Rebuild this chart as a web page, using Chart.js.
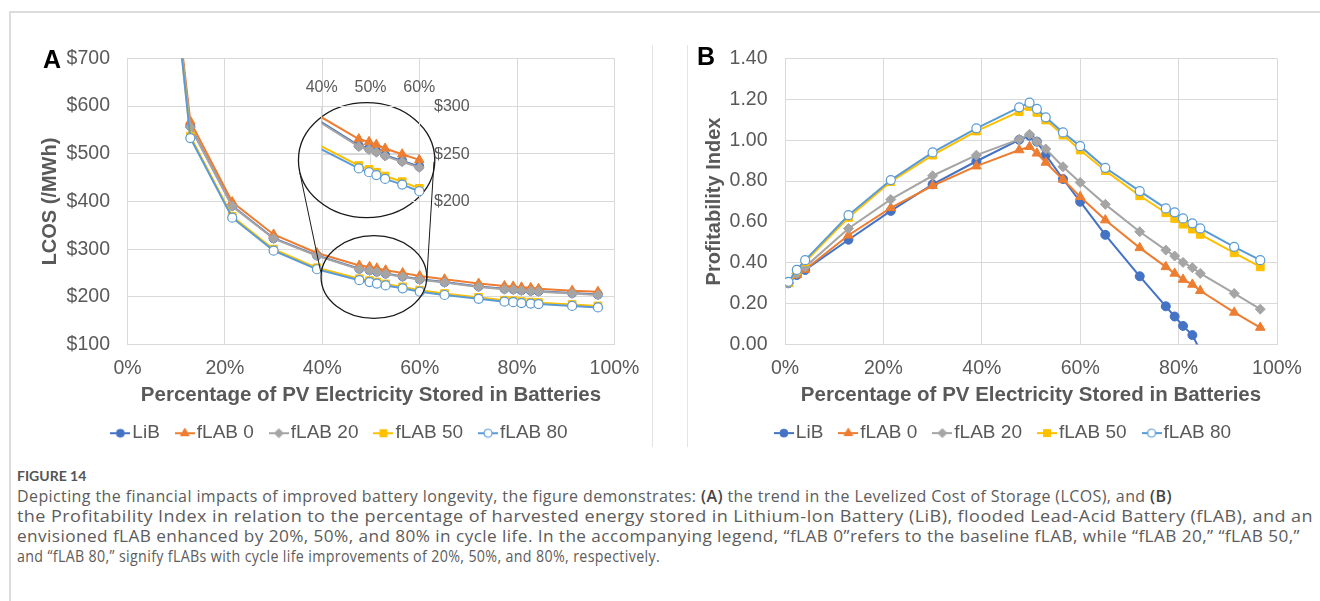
<!DOCTYPE html>
<html>
<head>
<meta charset="utf-8">
<title>Figure 14</title>
<script src="https://cdn.jsdelivr.net/npm/chart.js@4.4.1/dist/chart.umd.min.js"></script>
<style>
  html, body { margin: 0; padding: 0; background: #fff; }
  body { width: 1320px; height: 601px; position: relative; overflow: hidden; }
  .frame-top { position: absolute; left: 9px; top: 11px; width: 1311px; height: 2px; background: #dcdcdc; }
  .frame-left { position: absolute; left: 9px; top: 11px; width: 2px; height: 590px; background: #dcdcdc; }
  .sep { position: absolute; top: 45px; width: 1px; height: 402px; background: #e4e4e4; }
  .box { position: absolute; }
  .tag { position: absolute; font: bold 25px "Liberation Sans", Arial, sans-serif; color: #000; line-height: 25px; }
  .cap { position: absolute; left: 17px; font-family: "Open Sans", Lato, sans-serif; font-size: 16px;
         letter-spacing: 0.4px; line-height: 20px; color: #5c5c5c; white-space: nowrap; transform-origin: 0 50%; }
  .cap.head { font-family: Lato, sans-serif; font-weight: bold; font-size: 14px; letter-spacing: 0; color: #555; }
  .cap b { color: #444; font-weight: 600; }
</style>
</head>
<body>
<div class="frame-top"></div>
<div class="frame-left"></div>
<div class="sep" style="left:652px"></div>
<div class="sep" style="left:687px"></div>

<div class="box" style="left:0;top:0"><canvas id="chartA" width="660" height="460"></canvas></div>
<div class="box" style="left:660px;top:0"><canvas id="chartB" width="660" height="460"></canvas></div>
<div class="box" style="left:280px;top:60px"><canvas id="inset" width="200" height="160"></canvas></div>

<div class="tag" style="left:43px;top:47px">A</div>
<div class="tag" style="left:697px;top:44px">B</div>

<div class="cap head" style="top:466px">FIGURE 14</div>
<div class="cap" data-end="1172" style="top:486px">Depicting the financial impacts of improved battery longevity, the figure demonstrates: <b>(A)</b> the trend in the Levelized Cost of Storage (LCOS), and <b>(B)</b></div>
<div class="cap" data-end="1313" style="top:506px">the Profitability Index in relation to the percentage of harvested energy stored in Lithium-Ion Battery (LiB), flooded Lead-Acid Battery (fLAB), and an</div>
<div class="cap" data-end="1300" style="top:526px">envisioned fLAB enhanced by 20%, 50%, and 80% in cycle life. In the accompanying legend, “fLAB 0”refers to the baseline fLAB, while “fLAB 20,” “fLAB 50,”</div>
<div class="cap" data-end="660" style="top:546px">and “fLAB 80,” signify fLABs with cycle life improvements of 20%, 50%, and 80%, respectively.</div>

<script>
// share of PV electricity stored in batteries (%), same x positions in both panels
const pct = [0.7, 2.4, 4.1, 12.9, 21.5, 30, 38.9, 47.6, 49.7, 51.2, 53, 56.5, 60, 65.1, 72.1, 77.4, 79.2, 80.9, 82.8, 84.4, 91.3, 96.6];

const seriesNames = ['LiB', 'fLAB 0', 'fLAB 20', 'fLAB 50', 'fLAB 80'];

// panel A: LCOS ($/MWh)  (first points are off the top of the axis)
const lcosLiB    = [null, null, 1345, 558, 391, 323, 287, 259, 256, 253, 249, 243, 237, 231, 222, 217, 216, 214, 213, 212, 208, 205];
const lcosFlab0  = [null, null, 1350, 568, 399, 331, 292, 266, 263, 260, 256, 250, 244, 237, 228, 223, 222, 220, 219, 217, 213, 211];
const lcosFlab20 = [null, null, 1345, 556, 390, 322, 286, 258, 255, 252, 248, 242, 236, 230, 221, 216, 215, 213, 212, 211, 207, 204];
const lcosFlab50 = [null, null, 1390, 537, 369, 300, 261, 238, 234, 231, 227, 221, 214, 207, 199, 193, 192, 190, 189, 188, 184, 181];
const lcosFlab80 = [null, null, 1395, 533, 366, 297, 258, 235, 231, 228, 224, 218, 211, 204, 196, 190, 189, 187, 186, 185, 181, 178];

// panel B: profitability index (LiB falls below zero after ~84 %)
const piLiB    = [0.300, 0.340, 0.365, 0.513, 0.654, 0.784, 0.897, 1.002, 1.022, 0.993, 0.928, 0.810, 0.699, 0.537, 0.334, 0.187, 0.137, 0.091, 0.046, -0.030, -0.200, -0.340];
const piFlab0  = [0.299, 0.340, 0.367, 0.535, 0.669, 0.777, 0.873, 0.952, 0.968, 0.936, 0.891, 0.808, 0.723, 0.609, 0.473, 0.380, 0.348, 0.318, 0.294, 0.263, 0.157, 0.083];
const piFlab20 = [0.300, 0.348, 0.380, 0.568, 0.710, 0.826, 0.927, 1.004, 1.029, 0.993, 0.957, 0.870, 0.793, 0.686, 0.552, 0.462, 0.433, 0.402, 0.376, 0.348, 0.250, 0.173];
const piFlab50 = [0.304, 0.361, 0.405, 0.622, 0.797, 0.927, 1.045, 1.140, 1.164, 1.136, 1.099, 1.025, 0.952, 0.851, 0.728, 0.645, 0.617, 0.589, 0.565, 0.539, 0.449, 0.380];
const piFlab80 = [0.307, 0.365, 0.413, 0.633, 0.805, 0.940, 1.058, 1.161, 1.184, 1.153, 1.112, 1.038, 0.971, 0.865, 0.751, 0.666, 0.647, 0.617, 0.593, 0.568, 0.478, 0.413];

// tick labels
const pctTicks = [0, 20, 40, 60, 80, 100];
const lcosTicks = [100, 200, 300, 400, 500, 600, 700];
const piTicks = [0, 0.2, 0.4, 0.6, 0.8, 1.0, 1.2, 1.4];
const insetPctTicks = [40, 50, 60];
const insetLcosTicks = [200, 250, 300];

const colors = ['#4472C4', '#ED7D31', '#A5A5A5', '#FFC000', '#5B9BD5'];
const fills  = ['#4472C4', '#ED7D31', '#A5A5A5', '#FFC000', '#ffffff'];
const styles = ['circle', 'triangle', 'rectRot', 'rect', 'circle'];
const radii  = [4.5, 5.5, 5, 5.5, 4.5];

const FONT = "'Liberation Sans', Arial, sans-serif";
const TXT = '#595959';
const GRID = '#d9d9d9';

function makeSets(rows) {
  return seriesNames.map((name, i) => ({
    label: name,
    data: pct.map((x, j) => ({ x: x, y: rows[i][j] })),
    borderColor: colors[i],
    backgroundColor: fills[i],
    pointBackgroundColor: fills[i],
    pointBorderColor: colors[i],
    pointBorderWidth: i === 4 ? 1.2 : 1,
    pointStyle: styles[i],
    pointRadius: radii[i],
    borderWidth: 2,
    tension: 0,
    order: 5 - i
  }));
}

// small "line + marker" pictures for the legend
function legendIcon(i) {
  const c = document.createElement('canvas');
  c.width = 20; c.height = 14;
  const g = c.getContext('2d');
  g.strokeStyle = colors[i];
  g.lineWidth = 2;
  g.beginPath(); g.moveTo(0, 7); g.lineTo(20, 7); g.stroke();
  g.fillStyle = fills[i];
  g.lineWidth = i === 4 ? 1.2 : 1;
  const r = radii[i] - 0.5;
  g.beginPath();
  if (styles[i] === 'circle') {
    g.arc(10, 7, r, 0, Math.PI * 2);
  } else if (styles[i] === 'triangle') {
    g.moveTo(10, 7 - r); g.lineTo(10 + r * 0.866, 7 + r / 2); g.lineTo(10 - r * 0.866, 7 + r / 2);
  } else if (styles[i] === 'rectRot') {
    g.moveTo(10, 7 - r); g.lineTo(10 + r, 7); g.lineTo(10, 7 + r); g.lineTo(10 - r, 7);
  } else {
    const s = r * Math.SQRT1_2;
    g.rect(10 - s, 7 - s, 2 * s, 2 * s);
  }
  g.closePath();
  g.fill(); g.stroke();
  return c;
}
const icons = seriesNames.map((n, i) => legendIcon(i));

function legendOpts() {
  return {
    position: 'bottom',
    labels: {
      usePointStyle: true,
      pointStyleWidth: 5,
      padding: 22.5,
      color: TXT,
      font: { family: FONT, size: 19 },
      generateLabels: chart => chart.data.datasets.map((d, i) => ({
        text: d.label, pointStyle: icons[i], datasetIndex: i, hidden: false,
        fontColor: TXT, lineWidth: 0, strokeStyle: 'rgba(0,0,0,0)', fillStyle: 'rgba(0,0,0,0)'
      }))
    }
  };
}

// move the legend row sideways after layout (it sits off-centre in the figure)
function legendShift(dx) {
  return {
    id: 'legendShift',
    afterLayout(chart) {
      if (chart.legend) { chart.legend.left += dx; chart.legend.right += dx; }
    }
  };
}

function fixedTicks(list) {
  return scale => { scale.ticks = list.map(v => ({ value: v })); };
}

// ellipses and connector lines of the magnified view (panel A)
const zoomMarks = {
  id: 'zoomMarks',
  afterDatasetsDraw(chart) {
    const { ctx, scales: { x, y } } = chart;
    const ell = (cx, cy, rx, ry) => {
      const px = x.getPixelForValue(cx), py = y.getPixelForValue(cy);
      ctx.beginPath();
      ctx.ellipse(px, py, x.getPixelForValue(cx + rx) - px, py - y.getPixelForValue(cy + ry), 0, 0, Math.PI * 2);
      ctx.stroke();
    };
    const seg = (x1, y1, x2, y2) => {
      ctx.beginPath();
      ctx.moveTo(x.getPixelForValue(x1), y.getPixelForValue(y1));
      ctx.lineTo(x.getPixelForValue(x2), y.getPixelForValue(y2));
      ctx.stroke();
    };
    ctx.save();
    ctx.strokeStyle = '#1a1a1a';
    ctx.lineWidth = 1.3;
    ell(50.6, 241.7, 10.85, 86.6);
    ell(49.1, 486.6, 14.0, 120.5);
    ctx.lineWidth = 1;
    seg(35.4, 459.7, 39.67, 252.8);
    seg(62.94, 483.4, 61.44, 235.4);
    ctx.restore();
  }
};

Chart.defaults.font.family = FONT;

function mainScales(yMin, yMax, yTicks, yFmt, yTitle, yWidth) {
  return {
    x: {
      type: 'linear', min: 0, max: 100,
      afterBuildTicks: fixedTicks(pctTicks),
      ticks: { callback: v => v + '%', padding: 12, color: TXT, font: { size: 19.5 } },
      grid: { color: GRID, drawTicks: false },
      border: { color: GRID },
      title: { display: true, text: 'Percentage of PV Electricity Stored in Batteries', color: TXT,
               font: { size: 20.5, weight: 'bold' }, padding: { top: 0, bottom: -6.5 } },
      afterFit: s => { s.height = 56.6; s.paddingLeft = 0; s.paddingRight = 0; }
    },
    y: {
      type: 'linear', min: yMin, max: yMax,
      afterBuildTicks: fixedTicks(yTicks),
      ticks: { callback: yFmt, padding: 17.5, color: TXT, font: { size: 19.5 } },
      grid: { color: GRID, drawTicks: false },
      border: { color: GRID },
      title: { display: true, text: yTitle, color: TXT, font: { size: 20, weight: 'bold' }, padding: 0 },
      afterFit: s => { s.width = yWidth; s.paddingTop = 0; s.paddingBottom = 0; }
    }
  };
}

new Chart(document.getElementById('chartA'), {
  type: 'line',
  data: { datasets: makeSets([lcosLiB, lcosFlab0, lcosFlab20, lcosFlab50, lcosFlab80]) },
  options: {
    responsive: false, animation: false, devicePixelRatio: 1,
    layout: { padding: { left: 38, right: 45.5, top: 58.4, bottom: 7.3 } },
    plugins: { legend: legendOpts(), tooltip: { enabled: false } },
    scales: mainScales(100, 700, lcosTicks, v => '$' + v, 'LCOS (/MWh)', 89.5)
  },
  plugins: [zoomMarks, legendShift(16.5)]
});

// magnified 40-60 % window drawn inside the big circle
new Chart(document.getElementById('inset'), {
  type: 'line',
  data: { datasets: makeSets([lcosLiB, lcosFlab0, lcosFlab20, lcosFlab50, lcosFlab80]).map(d => Object.assign(d, { clip: { left: 0, top: 0, bottom: 0, right: 5 } })) },
  options: {
    responsive: false, animation: false, devicePixelRatio: 1,
    layout: { padding: { left: 41.7, right: 0.7, top: 0, bottom: 18.3 } },
    plugins: { legend: { display: false }, tooltip: { enabled: false } },
    scales: {
      x: {
        type: 'linear', position: 'top', min: 40, max: 60,
        afterBuildTicks: fixedTicks(insetPctTicks),
        ticks: { callback: v => v + '%', padding: 9.1, color: TXT, font: { size: 16 } },
        grid: { color: GRID, drawTicks: false },
        border: { display: false },
        afterFit: s => { s.height = 46.7; s.paddingLeft = 0; s.paddingRight = 0; }
      },
      y: {
        type: 'linear', position: 'right', min: 200, max: 300,
        afterBuildTicks: fixedTicks(insetLcosTicks),
        ticks: { callback: v => '$' + v, padding: 14.7, color: TXT, font: { size: 16 } },
        grid: { color: GRID, drawTicks: false },
        border: { display: false },
        afterFit: s => { s.width = 60; s.paddingTop = 0; s.paddingBottom = 0; }
      }
    }
  }
});

new Chart(document.getElementById('chartB'), {
  type: 'line',
  data: { datasets: makeSets([piLiB, piFlab0, piFlab20, piFlab50, piFlab80]) },
  options: {
    responsive: false, animation: false, devicePixelRatio: 1,
    layout: { padding: { left: 42.7, right: 43, top: 58.5, bottom: 7.4 } },
    plugins: { legend: legendOpts(), tooltip: { enabled: false } },
    scales: mainScales(0, 1.4, piTicks, v => v.toFixed(2), 'Profitability Index', 82.3)
  },
  plugins: [legendShift(16.4)]
});

// stretch / squeeze each caption line so it ends where the printed one does
document.querySelectorAll('.cap[data-end]').forEach(el => {
  const w = el.getBoundingClientRect().width;
  const target = +el.dataset.end - 17;
  el.style.transform = 'scaleX(' + (target / w).toFixed(4) + ')';
});
</script>
</body>
</html>
